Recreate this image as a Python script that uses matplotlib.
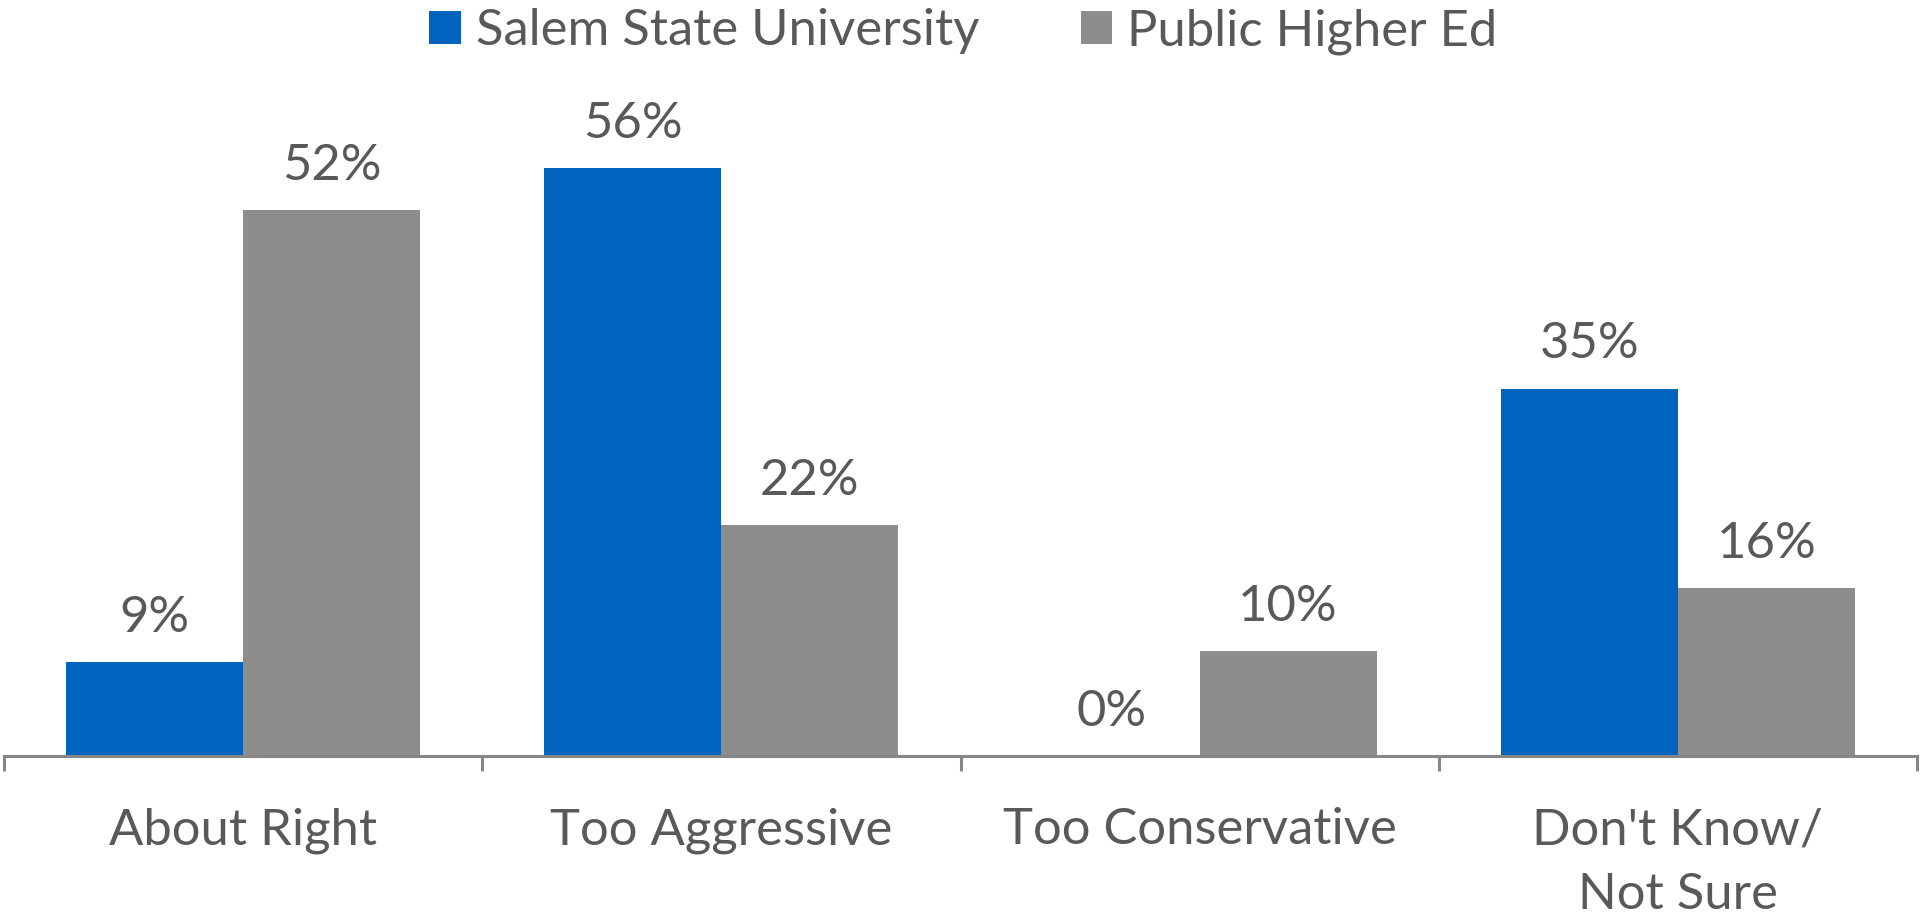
import matplotlib
matplotlib.use("Agg")
import matplotlib.pyplot as plt
import numpy as np

categories = ["About Right", "Too Aggressive", "Too Conservative", "Don't Know/\nNot Sure"]
salem = [9, 56, 0, 35]
public = [52, 22, 10, 16]
series_names = ["Salem State University", "Public Higher Ed"]

BLUE = "#0064BE"
GRAY = "#8C8D8C"
TXT = "#595959"
AX = "#868686"

plt.rcParams['font.family'] = ['Lato', 'DejaVu Sans']

W, H = 1921, 923
fig = plt.figure(figsize=(W/100, H/100), dpi=100)
ax_bottom_px = 756
ymax = 60
unit = 10.5
ax = fig.add_axes([4/W, (H-ax_bottom_px)/H, (1917-4)/W, ymax*unit/H])

x = np.arange(len(categories))
bw = 0.37
b1 = ax.bar(x - bw/2, salem, bw, color=BLUE, label=series_names[0])
b2 = ax.bar(x + bw/2, public, bw, color=GRAY, label=series_names[1])

FS = 36.5
for bars, vals in ((b1, salem), (b2, public)):
    for r, v in zip(bars, vals):
        ax.annotate(f"{v}%", (r.get_x()+r.get_width()/2, v), xytext=(0, 21),
                    textcoords="offset pixels", ha="center", va="bottom",
                    fontsize=FS, color=TXT)

ax.set_xlim(-0.5, len(categories)-0.5)
ax.set_ylim(0, ymax)
ax.set_yticks([])
for s in ["top", "right", "left"]:
    ax.spines[s].set_visible(False)
ax.spines["bottom"].set_color(AX)
ax.spines["bottom"].set_linewidth(2.2)

ax.set_xticks(np.arange(len(categories)+1) - 0.5)
ax.set_xticklabels([])
ax.tick_params(axis="x", which="major", length=11, width=2.2, color=AX, direction="out")
ax.set_xticks(x, minor=True)
ax.set_xticklabels(categories, minor=True, fontsize=FS, color=TXT, linespacing=1.5)
ax.tick_params(axis="x", which="minor", length=0, pad=37)

handles = [b1, b2]
leg = fig.legend(handles, series_names, loc="upper center", bbox_to_anchor=(0.5*(430+1497)/W, 1.013),
                 ncol=2, frameon=False, fontsize=FS, handlelength=0.62, handleheight=0.62,
                 handletextpad=0.3, columnspacing=2.0, labelcolor=TXT, borderaxespad=0.0)

fig.savefig("out.png", dpi=100)
